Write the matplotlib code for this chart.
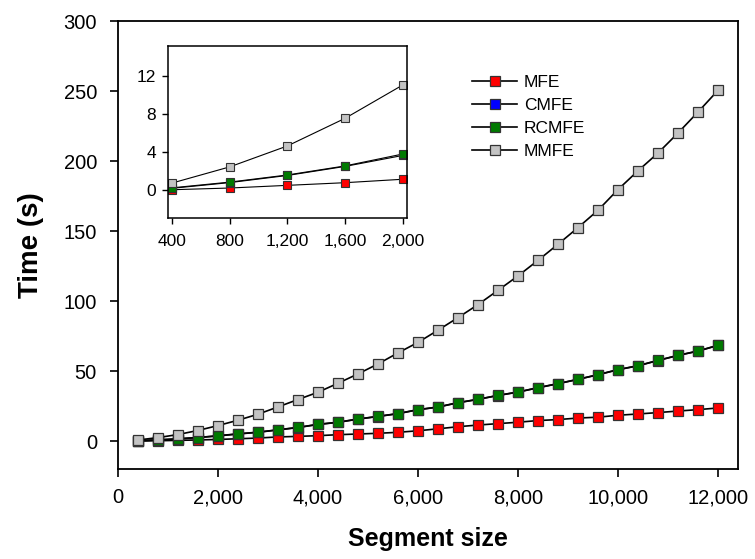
import matplotlib
matplotlib.use("Agg")
from matplotlib import pyplot as plt
from matplotlib.ticker import FuncFormatter

plt.rcParams['font.family'] = ['Liberation Sans', 'DejaVu Sans']

seg = [400, 800, 1200, 1600, 2000, 2400, 2800, 3200, 3600, 4000,
       4400, 4800, 5200, 5600, 6000, 6400, 6800, 7200, 7600, 8000,
       8400, 8800, 9200, 9600, 10000, 10400, 10800, 11200, 11600, 12000]

mfe = [0.0, 0.18, 0.46, 0.74, 1.1, 1.6, 2.1, 2.9, 3.3, 3.8,
       4.5, 5.0, 5.5, 6.2, 7.3, 8.7, 10.2, 11.4, 12.4, 13.4,
       14.6, 15.3, 16.4, 17.0, 18.4, 19.3, 20.3, 21.4, 22.4, 23.6]
cmfe = [0.15, 0.75, 1.5, 2.45, 3.6, 5.0, 6.2, 7.9, 9.6, 11.8,
        13.3, 15.6, 17.5, 19.5, 22.3, 24.2, 27.3, 29.7, 32.5, 34.9,
        38.0, 40.9, 44.0, 47.3, 50.9, 53.7, 57.5, 61.1, 64.2, 68.3]
rcmfe = [0.2, 0.8, 1.55, 2.5, 3.75, 5.1, 6.3, 8.0, 9.7, 11.9,
         13.4, 15.7, 17.6, 19.6, 22.4, 24.3, 27.4, 29.8, 32.6, 35.0,
         38.1, 41.0, 44.1, 47.4, 51.0, 53.8, 57.6, 61.2, 64.3, 68.4]
mmfe = [0.7, 2.4, 4.6, 7.5, 11.0, 14.8, 19.1, 24.3, 29.6, 34.8,
        41.2, 47.9, 55.0, 62.9, 70.4, 79.1, 88.1, 97.4, 107.6, 117.9,
        129.0, 140.5, 152.4, 164.8, 179.6, 193.0, 205.7, 220.0, 235.0, 250.5]

series = [("MFE", mfe, '#ff0000'), ("CMFE", cmfe, '#0000ff'),
          ("RCMFE", rcmfe, '#007a00'), ("MMFE", mmfe, '#c3c3c3')]

comma = FuncFormatter(lambda v, p: f"{int(v):,}")

fig = plt.figure(figsize=(7.55, 5.59), dpi=100)
ax = fig.add_axes([0.156, 0.161, 0.8215, 0.8014])
for name, vals, col in series:
    ax.plot(seg, vals, color='black', lw=1.2, marker='s', ms=6.5,
            mfc=col, mec='#333333', mew=0.9, label=name)
ax.set_xlim(0, 12400)
ax.set_ylim(-20, 300)
ax.set_xticks(range(0, 12001, 2000))
ax.set_yticks(range(0, 301, 50))
ax.xaxis.set_major_formatter(comma)
ax.tick_params(direction='out', length=6, width=1.2, labelsize=14.5)
ax.tick_params(axis='x', pad=8)
ax.tick_params(axis='y', pad=9)
for s in ax.spines.values():
    s.set_linewidth(1.3)
ax.set_xlabel('Segment size', fontsize=18, fontweight='bold', labelpad=14)
ax.set_ylabel('Time (s)', fontsize=20, fontweight='bold', labelpad=14)
ax.legend(loc='upper left', bbox_to_anchor=(465 / 755, 1 - 68 / 559),
          bbox_transform=fig.transFigure, frameon=False, fontsize=12.5,
          handlelength=2.6, handletextpad=0.4, labelspacing=0.45,
          borderaxespad=0)

ins = fig.add_axes([0.2229, 0.6095, 0.3158, 0.3082])
n = 5
for name, vals, col in series:
    ins.plot(seg[:n], vals[:n], color='black', lw=0.8, marker='s', ms=6,
             mfc=col, mec='#333333', mew=0.8)
ins.set_xlim(374, 2028)
ins.set_ylim(-3, 15.1)
ins.set_xticks(seg[:n])
ins.set_yticks([0, 4, 8, 12])
ins.xaxis.set_major_formatter(comma)
ins.tick_params(direction='out', length=4, width=1, labelsize=12.5, pad=5)
ins.tick_params(axis='x', pad=7)
for s in ins.spines.values():
    s.set_linewidth(1.1)

fig.savefig('out.png', dpi=100)
